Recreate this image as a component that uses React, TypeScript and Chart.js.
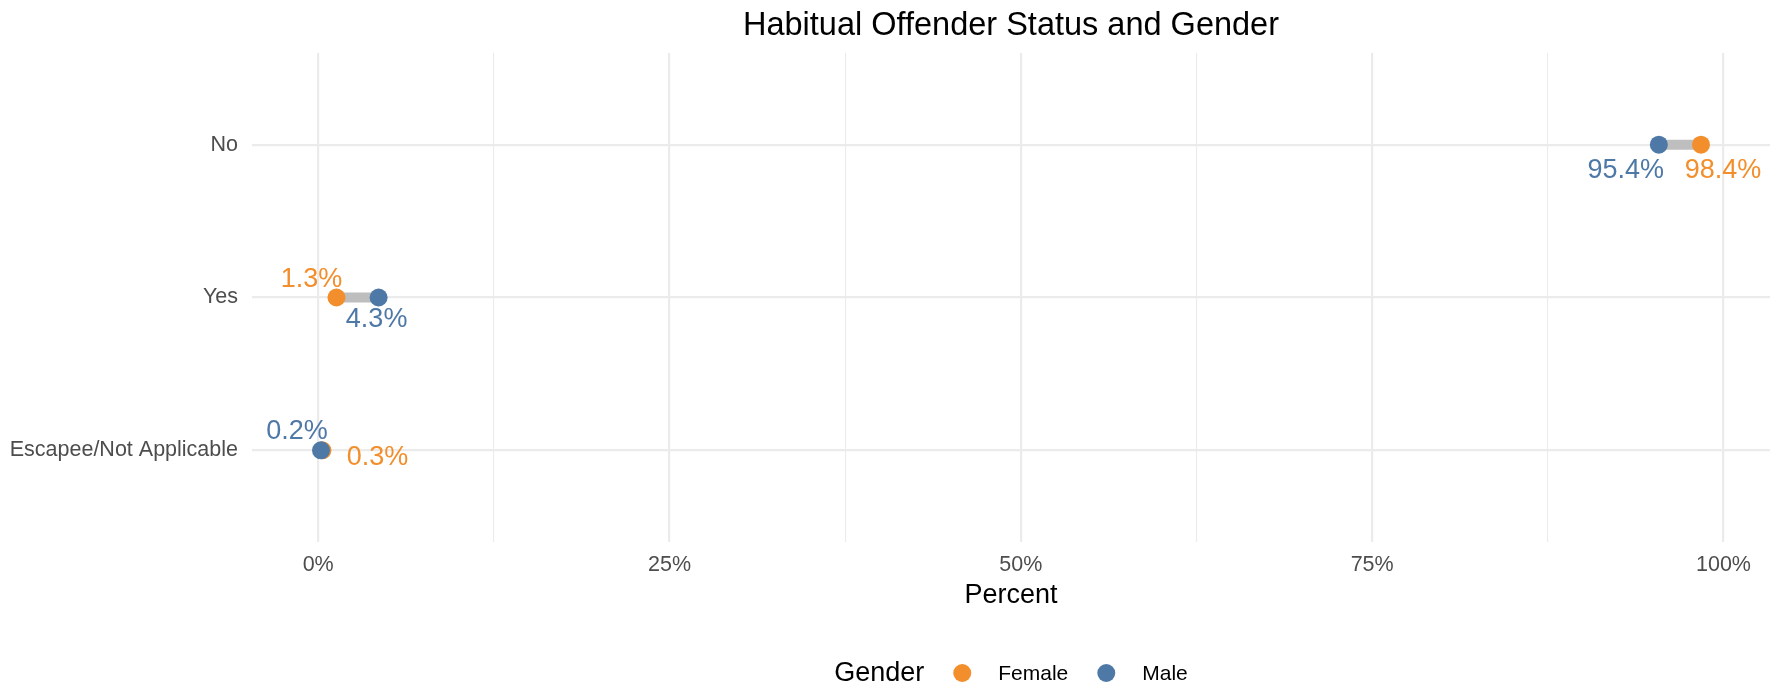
import React, { useEffect, useRef } from "react";
import { Chart, registerables } from "chart.js";

Chart.register(...registerables);

// ---------- data ----------
const categories = ["No", "Yes", "Escapee/Not Applicable"];
const femalePct = [98.4, 1.3, 0.3];
const malePct = [95.4, 4.3, 0.2];
const xTickValues = [0, 25, 50, 75, 100];
const seriesNames = ["Female", "Male"];
const legendTitle = "Gender";
const chartTitle = "Habitual Offender Status and Gender";
const xAxisTitle = "Percent";

// ---------- styling ----------
const FEMALE = "#F28E2B";
const MALE = "#4E79A7";
const SEGMENT = "#BEBEBE";
const GRID = "#EBEBEB";
const AXIS_TEXT = "#4D4D4D";
const FONT = "'Liberation Sans', Arial, Helvetica, sans-serif";

// label offsets (pixels, relative to each point) — mimic repelled labels
const femaleLabelOffsets = [[22, 26], [-25, -18], [55, 7]];
const maleLabelOffsets = [[-33, 26], [-2, 22], [-24, -19]];

const W = 1779;
const H = 689;

export default function App() {
  const ref = useRef<HTMLCanvasElement | null>(null);

  useEffect(() => {
    if (!ref.current) return;
    const all = [...femalePct, ...malePct];
    const lo = Math.min(...all);
    const hi = Math.max(...all);
    const pad = (hi - lo) * 0.05;
    const minorStep = 12.5;
    const xTicksAll: number[] = [];
    for (let v = 0; v <= 100 + 1e-9; v += minorStep) xTicksAll.push(v);

    const segDatasets = categories.map((c, i) => ({
      label: "seg-" + c,
      data: [
        { x: femalePct[i], y: i },
        { x: malePct[i], y: i },
      ],
      showLine: true,
      borderColor: SEGMENT,
      borderWidth: 10,
      borderCapStyle: "butt",
      pointRadius: 0,
      pointHoverRadius: 0,
      order: 3,
    }));

    const femaleDs = {
      label: seriesNames[0],
      data: categories.map((_, i) => ({ x: femalePct[i], y: i })),
      backgroundColor: FEMALE,
      borderColor: FEMALE,
      borderWidth: 0,
      pointRadius: 9,
      pointHoverRadius: 9,
      showLine: false,
      order: 2,
    };
    const maleDs = {
      label: seriesNames[1],
      data: categories.map((_, i) => ({ x: malePct[i], y: i })),
      backgroundColor: MALE,
      borderColor: MALE,
      borderWidth: 0,
      pointRadius: 9,
      pointHoverRadius: 9,
      showLine: false,
      order: 1,
    };

    const femaleIndex = segDatasets.length;
    const maleIndex = segDatasets.length + 1;

    const labelPlugin = {
      id: "dotLabels",
      afterDatasetsDraw(chart: any) {
        const ctx = chart.ctx;
        ctx.save();
        ctx.font = `27px ${FONT}`;
        ctx.textAlign = "center";
        ctx.textBaseline = "middle";
        const fm = chart.getDatasetMeta(femaleIndex).data;
        const mm = chart.getDatasetMeta(maleIndex).data;
        categories.forEach((_, i) => {
          ctx.fillStyle = FEMALE;
          ctx.fillText(
            femalePct[i].toFixed(1) + "%",
            fm[i].x + femaleLabelOffsets[i][0],
            fm[i].y + femaleLabelOffsets[i][1]
          );
          ctx.fillStyle = MALE;
          ctx.fillText(
            malePct[i].toFixed(1) + "%",
            mm[i].x + maleLabelOffsets[i][0],
            mm[i].y + maleLabelOffsets[i][1]
          );
        });
        ctx.restore();
      },
    };

    const titlePlugin = {
      id: "panelTitle",
      afterDraw(chart: any) {
        const { ctx, chartArea } = chart;
        ctx.save();
        ctx.font = `32.5px ${FONT}`;
        ctx.fillStyle = "#000000";
        ctx.textAlign = "center";
        ctx.textBaseline = "middle";
        ctx.fillText(chartTitle, (chartArea.left + chartArea.right) / 2, 26);
        ctx.restore();
      },
    };

    const legendPlugin = {
      id: "inlineLegend",
      afterDraw(chart: any) {
        const { ctx, chartArea } = chart;
        const y = 674;
        const r = 9;
        ctx.save();
        ctx.textBaseline = "middle";
        ctx.textAlign = "left";
        ctx.font = `27px ${FONT}`;
        const wT = ctx.measureText(legendTitle).width;
        ctx.font = `21px ${FONT}`;
        const widths = seriesNames.map((n) => ctx.measureText(n).width);
        const gapTitle = 29;
        const gapDotText = 27;
        const gapItems = 29;
        let total = wT + gapTitle;
        widths.forEach((w, k) => {
          total += 2 * r + gapDotText + w + (k < widths.length - 1 ? gapItems : 0);
        });
        let x = (chartArea.left + chartArea.right) / 2 - total / 2;
        ctx.font = `27px ${FONT}`;
        ctx.fillStyle = "#000000";
        ctx.fillText(legendTitle, x, y);
        x += wT + gapTitle;
        const colors = [FEMALE, MALE];
        ctx.font = `21px ${FONT}`;
        seriesNames.forEach((n, k) => {
          ctx.fillStyle = colors[k];
          ctx.beginPath();
          ctx.arc(x + r, y - 1, r, 0, Math.PI * 2);
          ctx.fill();
          x += 2 * r + gapDotText;
          ctx.fillStyle = "#000000";
          ctx.fillText(n, x, y);
          x += widths[k] + gapItems;
        });
        ctx.restore();
      },
    };

    const chart = new Chart(ref.current, {
      type: "scatter",
      data: { datasets: [...segDatasets, femaleDs, maleDs] as any },
      options: {
        animation: false,
        responsive: false,
        maintainAspectRatio: false,
        devicePixelRatio: 1,
        layout: { padding: { top: 53, right: 7, bottom: 77, left: 0 } },
        plugins: {
          legend: { display: false },
          tooltip: { enabled: false },
          title: { display: false },
        },
        scales: {
          x: {
            type: "linear",
            min: lo - pad,
            max: hi + pad,
            afterBuildTicks: (scale: any) => {
              scale.ticks = xTicksAll.map((v) => ({ value: v }));
            },
            afterFit: (scale: any) => {
              scale.height = 70;
            },
            ticks: {
              autoSkip: false,
              maxRotation: 0,
              padding: 10,
              color: AXIS_TEXT,
              font: { family: FONT, size: 21.5 },
              callback: (v: any) =>
                xTickValues.includes(Number(v)) ? `${v}%` : "",
            },
            grid: {
              color: GRID,
              drawTicks: false,
              lineWidth: (c: any) =>
                c.tick && xTickValues.includes(c.tick.value) ? 2.2 : 1.1,
            },
            border: { display: false },
            title: {
              display: true,
              text: xAxisTitle,
              color: "#000000",
              font: { family: FONT, size: 27 },
              padding: { top: 0, bottom: 0 },
            },
          },
          y: {
            type: "linear",
            min: -0.6,
            max: categories.length - 1 + 0.6,
            reverse: true,
            afterBuildTicks: (scale: any) => {
              scale.ticks = categories.map((_, i) => ({ value: i }));
            },
            afterFit: (scale: any) => {
              scale.width = 252;
            },
            ticks: {
              autoSkip: false,
              padding: 14,
              color: AXIS_TEXT,
              font: { family: FONT, size: 21.5 },
              callback: (v: any) => categories[Number(v)] ?? "",
            },
            grid: { color: GRID, drawTicks: false, lineWidth: 2.2 },
            border: { display: false },
          },
        },
      } as any,
      plugins: [labelPlugin, titlePlugin, legendPlugin],
    });

    return () => chart.destroy();
  }, []);

  return (
    <div
      style={{
        position: "fixed",
        left: 0,
        top: 0,
        width: W,
        height: H,
        background: "#ffffff",
      }}
    >
      <canvas ref={ref} width={W} height={H} style={{ display: "block" }} />
    </div>
  );
}
